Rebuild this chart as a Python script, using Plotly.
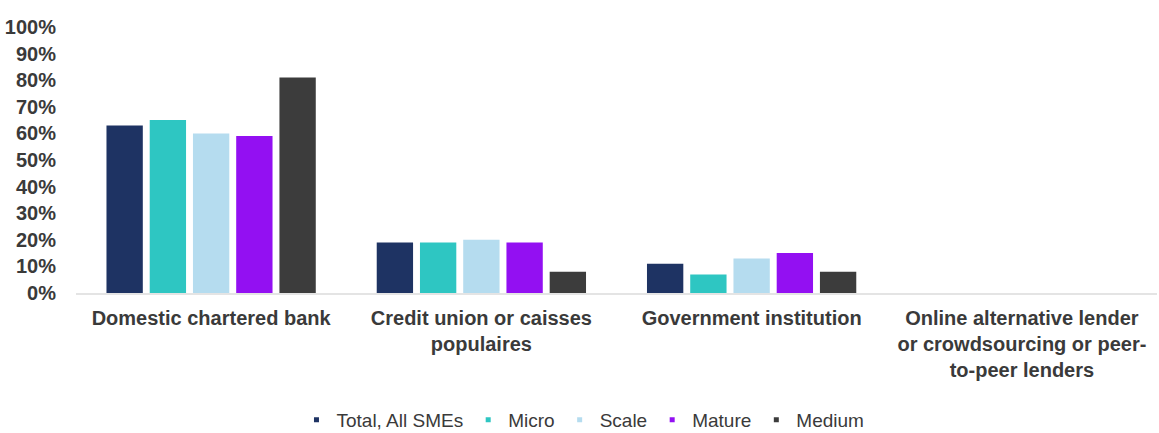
import plotly.graph_objects as go

# Where SMEs go for financing, share of respondents by segment
categories = [
    "Domestic chartered bank",
    "Credit union or caisses<br>populaires",
    "Government institution",
    "Online alternative lender<br>or crowdsourcing or peer-<br>to-peer lenders",
]
series_names = ["Total, All SMEs", "Micro", "Scale", "Mature", "Medium"]
total_all = [0.63, 0.19, 0.11, 0.0]
micro = [0.65, 0.19, 0.07, 0.0]
scale = [0.60, 0.20, 0.13, 0.0]
mature = [0.59, 0.19, 0.15, 0.0]
medium = [0.81, 0.08, 0.08, 0.0]
series_values = [total_all, micro, scale, mature, medium]
colors = ["#1e3363", "#2ec6c2", "#b5dcef", "#9310f2", "#3c3c3c"]

y_ticks = [i / 10 for i in range(11)]
y_tick_labels = [f"{i * 10}%" for i in range(11)]

FONT = "Liberation Sans, Arial, sans-serif"
TEXT = "#3a3a3a"

fig = go.Figure()
for name, vals, col in zip(series_names, series_values, colors):
    fig.add_trace(go.Bar(
        x=categories, y=vals, name=name, marker_color=col,
        marker_line_width=0, showlegend=False,
        hovertemplate="%{y:.0%}<extra>" + name + "</extra>",
    ))
# small square legend keys
for name, col in zip(series_names, colors):
    fig.add_trace(go.Scatter(
        x=[None], y=[None], mode="markers", name=name,
        marker=dict(symbol="square", size=5, color=col),
    ))

fig.update_layout(
    width=1159, height=433,
    margin=dict(l=76, r=2, t=27, b=140),
    paper_bgcolor="white", plot_bgcolor="white",
    barmode="group", bargap=0.2, bargroupgap=0.16,
    font=dict(family=FONT, color=TEXT),
    legend=dict(
        orientation="h", xref="container", yref="container",
        x=0.503, xanchor="center", y=0.03, yanchor="middle",
        font=dict(size=19, color=TEXT), itemwidth=30,
        bgcolor="rgba(0,0,0,0)",
    ),
    xaxis=dict(
        showgrid=False, zeroline=False, showline=True,
        linecolor="#e4e4e4", linewidth=2,
        tickfont=dict(size=20, weight="bold", color=TEXT),
        ticklabelstandoff=6,
    ),
    yaxis=dict(
        range=[0, 1], tickvals=y_ticks, ticktext=y_tick_labels,
        showgrid=False, zeroline=False, showline=False,
        tickfont=dict(size=20, weight="bold", color=TEXT),
        ticklabelstandoff=19,
    ),
)

fig.write_html("out.html")
